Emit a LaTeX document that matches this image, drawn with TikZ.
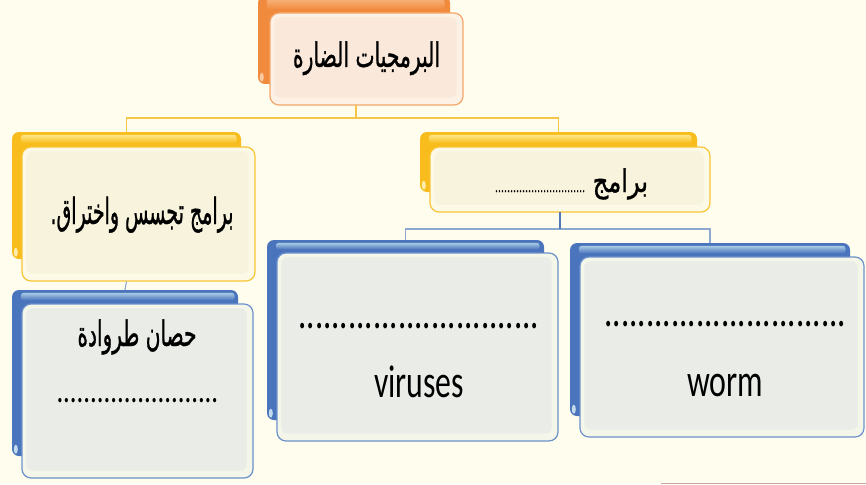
\documentclass[tikz,border=0pt]{standalone}
\usepackage{fontspec}
\usepackage{graphicx}
\newfontfamily\arabicfont[Script=Arabic,FakeBold=1.2]{DejaVu Sans}
\newfontfamily\latinfont{Carlito}
\TeXXeTstate=1
\definecolor{bg}{HTML}{FEFDEE}
\definecolor{orD}{HTML}{F08B3E}
\definecolor{orL}{HTML}{F8B27A}
\definecolor{orB}{HTML}{F5A56A}
\definecolor{orR}{HTML}{FCF1E4}
\definecolor{orI}{HTML}{FAE9DA}
\definecolor{yeD}{HTML}{F8BD1C}
\definecolor{yeL}{HTML}{FDE689}
\definecolor{yeB}{HTML}{F7C636}
\definecolor{yeR}{HTML}{FCF9E6}
\definecolor{yeI}{HTML}{F7F3DC}
\definecolor{blD}{HTML}{4A74BC}
\definecolor{blL}{HTML}{A9CBE5}
\definecolor{blB}{HTML}{6D91CB}
\definecolor{blR}{HTML}{F4F6E9}
\definecolor{blI}{HTML}{E9ECE7}
\definecolor{lnY}{HTML}{F6C54A}
\definecolor{lnB}{HTML}{8EA9D0}
\definecolor{lnBD}{HTML}{4F78B8}
\newcommand\fitwh[3]{\resizebox{#1}{#2\height}{#3}}
\newcommand\fitw[2]{\resizebox{#1}{\height}{#2}}
\newcommand\backband[4]{%
  \shade[top color=#3,bottom color=#4,rounded corners=3pt]
    ([shift={(9,3)}]#1.north west) rectangle ([shift={(-19,-3)}]#2.north east);
  \fill[#3!70!white] ([shift={(4,-7)}]#1.south west) ellipse [x radius=2, y radius=4.5];}
\newcommand\innerpanel[2]{%
  \fill[#2,rounded corners=6pt] ([shift={(5,5)}]#1.north west) rectangle ([shift={(-7,-8)}]#1.south east);}
\tikzset{
  backcard/.style={draw=none,fill=#1,rounded corners=7pt,inner sep=0pt},
  frontcard/.style={draw=#1,line width=1.2pt,rounded corners=9pt,inner sep=0pt},
  artext/.style={font=\arabicfont,text=black,inner sep=0pt},
  latext/.style={font=\latinfont,text=black,inner sep=0pt},
  ylink/.style={draw=lnY,line width=1.6pt},
  blink/.style={draw=lnB,line width=1.1pt},
}
\begin{document}
\begin{tikzpicture}[x=1pt,y=-1pt]
\useasboundingbox (0,0) rectangle (866,484);
\clip (0,0) rectangle (866,484);
\fill[bg] (0,0) rectangle (866,484);

% connectors
\coordinate (topdrop) at (356,105);
\coordinate (rmdrop) at (560,212);

% top card
\node[backcard=orD,minimum width=192pt,minimum height=88pt] (topb) at (354,40) {};
\node[frontcard=orB,fill=orR,minimum width=193pt,minimum height=92pt] (top) at (366.5,59) {};
\backband{topb}{top}{orL}{orD}
\innerpanel{top}{orI}
\node[artext,anchor=base] (toptx) at (366.5,67) {\fitwh{147pt}{1.35}{\fontsize{25}{30}\selectfont\beginR البرمجيات الضارة\endR}};

% left middle
\node[backcard=yeD,minimum width=229pt,minimum height=127pt] (lmb) at (126.5,195.5) {};
\node[frontcard=yeB,fill=yeR,minimum width=233pt,minimum height=134pt] (lm) at (138.5,214) {};
\backband{lmb}{lm}{yeL}{yeD}
\innerpanel{lm}{yeI}
\node[artext,anchor=base] (lmtx) at (142,224) {\fitwh{183pt}{1.5}{\fontsize{24}{30}\selectfont\beginR برامج تجسس واختراق.\endR}};

% right middle
\node[backcard=yeD,minimum width=277pt,minimum height=60pt] (rmb) at (558.5,162) {};
\node[frontcard=yeB,fill=yeR,minimum width=280pt,minimum height=65pt] (rm) at (570,179.5) {};
\backband{rmb}{rm}{yeL}{yeD}
\innerpanel{rm}{yeI}
\node[artext,anchor=base] (rmtx) at (571.5,192) {\fitwh{153pt}{1.35}{\fontsize{23}{30}\selectfont\beginR برامج {\fontsize{9}{10}\selectfont ..............................}\endR}};

% bottom left
\node[backcard=blD,minimum width=226pt,minimum height=166pt] (blb) at (125,373) {};
\node[frontcard=blB,fill=blR,minimum width=231pt,minimum height=174pt] (bl) at (137.5,391) {};
\backband{blb}{bl}{blL}{blD}
\innerpanel{bl}{blI}
\node[artext,anchor=base] (bltx) at (137,346) {\fitwh{119pt}{1.4}{\fontsize{25}{30}\selectfont\beginR حصان طروادة\endR}};
\node[latext,anchor=base] (bldots) at (137.5,402) {\fitw{162pt}{\fontsize{36}{40}\selectfont ........................}};

% bottom middle
\node[backcard=blD,minimum width=277pt,minimum height=180pt] (bmb) at (405.5,330) {};
\node[frontcard=blB,fill=blR,minimum width=281pt,minimum height=188pt] (bm) at (417.5,347) {};
\backband{bmb}{bm}{blL}{blD}
\innerpanel{bm}{blI}
\node[latext,anchor=base] (bmdots) at (419,328) {\fitw{241pt}{\fontsize{46}{50}\selectfont .............................}};
\node[latext,anchor=base] (bmtx) at (419,397) {\fitw{90pt}{\fontsize{46}{50}\selectfont viruses}};

% bottom right
\node[backcard=blD,minimum width=280pt,minimum height=173pt] (brb) at (710,329.5) {};
\node[frontcard=blB,fill=blR,minimum width=284pt,minimum height=180pt] (br) at (722,347) {};
\backband{brb}{br}{blL}{blD}
\innerpanel{br}{blI}
\node[latext,anchor=base] (brdots) at (725.5,326) {\fitw{242pt}{\fontsize{46}{50}\selectfont .............................}};
\node[latext,anchor=base] (brtx) at (725,396) {\fitw{76pt}{\fontsize{46}{50}\selectfont worm}};

% links
\draw[ylink] (topdrop) -- ++(0,13) -| (lmb.north);
\draw[ylink] (topdrop) -- ++(0,13) -| (rmb.north);
\draw[blink] (rmdrop) -- ++(0,17) -| (bmb.north);
\draw[blink] (rmdrop) -- ++(0,17) -| (brb.north);
\draw[draw=lnBD,line width=1.3pt] (rmdrop) -- ++(0,17);
\draw[blink] (lm.south -| lmb.south) -- (blb.north);

% bottom-right edge line
\coordinate (edgeA) at (661,483);
\coordinate (edgeB) at (866,483);
\draw[draw={rgb,255:red,196;green,170;blue,160},line width=1pt] (edgeA) -- (edgeB);
\end{tikzpicture}
\end{document}
